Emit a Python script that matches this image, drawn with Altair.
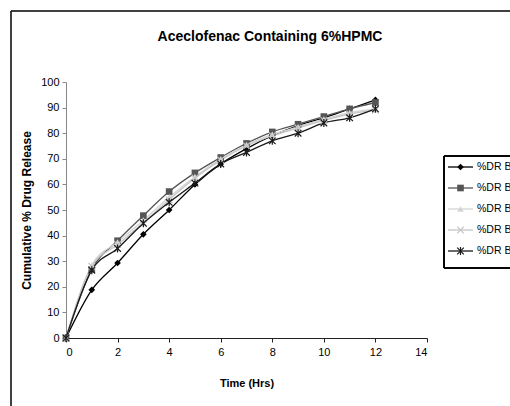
import altair as alt
import pandas as pd

hours = [0, 1, 2, 3, 4, 5, 6, 7, 8, 9, 10, 11, 12]
series_names = ["%DR B1", "%DR B2", "%DR B3", "%DR B4", "%DR B5"]
b1 = [0, 18.8, 29.3, 40.5, 50.0, 60.0, 68.0, 74.0, 79.0, 83.0, 86.0, 89.5, 93.0]
b2 = [0, 26.8, 38.0, 47.8, 57.2, 64.5, 70.5, 76.0, 80.5, 83.5, 86.5, 89.5, 92.0]
b3 = [0, 28.5, 37.5, 46.0, 55.0, 63.0, 70.0, 75.5, 79.5, 82.5, 85.5, 88.0, 89.5]
b4 = [0, 28.0, 36.5, 45.0, 54.0, 62.5, 69.5, 75.0, 79.0, 82.0, 85.0, 87.5, 89.0]
b5 = [0, 26.5, 35.0, 44.8, 53.0, 60.5, 68.0, 72.5, 77.0, 80.0, 84.0, 86.0, 89.5]
title_text = ["Aceclofenac Containing 6%HPMC"]

colors = ["#000000", "#555555", "#d4d4d4", "#c4c4c4", "#1a1a1a"]
x_path = "M-1,-1L1,1M1,-1L-1,1"
ast_path = "M-1,-1L1,1M1,-1L-1,1M0,-1.2L0,1.2"
shapes = ["diamond", "square", "triangle-up", x_path, ast_path]
filled_series = series_names[:3]
stroked_series = series_names[3:]

rows = []
for name, vals in zip(series_names, [b1, b2, b3, b4, b5]):
    for h, v in zip(hours, vals):
        rows.append({"hours": h, "value": v, "series": name})
df = pd.DataFrame(rows)
leg = pd.DataFrame({"series": series_names})
tdf = pd.DataFrame({"t": title_text})

FONT = "Liberation Sans, Arial, sans-serif"
W, H = 361, 256
MS = 44

color = alt.Color("series:N", scale=alt.Scale(domain=series_names, range=colors), legend=None)
shape = alt.Shape("series:N", scale=alt.Scale(domain=series_names, range=shapes), legend=None)

x = alt.X("hours:Q", scale=alt.Scale(domain=[0, 14], nice=False),
          axis=alt.Axis(values=list(range(0, 15, 2)), title="Time (Hrs)", grid=False,
                        domainColor="#222", tickColor="#222", tickSize=4,
                        labelFont=FONT, labelFontSize=11, labelColor="#000", labelPadding=4,
                        titleFont=FONT, titleFontSize=11, titleFontWeight="bold",
                        titleColor="#000", titlePadding=20))
y = alt.Y("value:Q", scale=alt.Scale(domain=[0, 100], nice=False),
          axis=alt.Axis(values=list(range(0, 101, 10)), title="Cumulative % Drug Release", grid=False,
                        domainColor="#888", tickColor="#888", tickSize=4,
                        labelFont=FONT, labelFontSize=11, labelColor="#000", labelPadding=3,
                        titleFont=FONT, titleFontSize=12, titleFontWeight="bold",
                        titleColor="#000", titlePadding=7))

base = alt.Chart(df)
lines = base.mark_line(interpolate="monotone", strokeWidth=1.3).encode(x=x, y=y, color=color, detail="series:N")
pts_f = base.transform_filter(alt.FieldOneOfPredicate(field="series", oneOf=filled_series)).mark_point(
    filled=True, size=MS, opacity=1).encode(x=x, y=y, color=color, shape=shape)
pts_s = base.transform_filter(alt.FieldOneOfPredicate(field="series", oneOf=stroked_series)).mark_point(
    filled=False, size=MS, strokeWidth=1.2, opacity=1).encode(x=x, y=y, color=color, shape=shape)
main = alt.layer(lines, pts_f, pts_s)

# hand-made legend (Excel style: line through marker, boxed)
ly = alt.Y("series:N", scale=alt.Scale(type="point", domain=series_names, range=[85, 169], padding=0), axis=None)
lbase = alt.Chart(leg)
lbox = lbase.mark_rect(filled=False, stroke="#000", strokeWidth=1).encode(
    x=alt.value(378), x2=alt.value(470), y=alt.value(74), y2=alt.value(186))
lrule = lbase.mark_rule(strokeWidth=1.3).encode(x=alt.value(382), x2=alt.value(407), y=ly, color=color)
lpf = lbase.transform_filter(alt.FieldOneOfPredicate(field="series", oneOf=filled_series)).mark_point(
    filled=True, size=MS, opacity=1).encode(x=alt.value(394.5), y=ly, color=color, shape=shape)
lps = lbase.transform_filter(alt.FieldOneOfPredicate(field="series", oneOf=stroked_series)).mark_point(
    filled=False, size=MS, strokeWidth=1.2, opacity=1).encode(x=alt.value(394.5), y=ly, color=color, shape=shape)
ltext = lbase.mark_text(align="left", baseline="middle", font=FONT, fontSize=10.5, color="#000").encode(
    x=alt.value(411), y=ly, text="series:N")
legend = alt.layer(lbox, lrule, lpf, lps, ltext)

# chart title as text
title = alt.Chart(tdf).mark_text(align="center", baseline="alphabetic", font=FONT, fontSize=14,
                                 fontWeight="bold", color="#000").encode(
    x=alt.value(204), y=alt.value(-41), text="t:N")

# outer chart-area frame
frame_top = alt.Chart(tdf).mark_rule(color="#000", strokeWidth=1.5).encode(
    x=alt.value(-55), x2=alt.value(450), y=alt.value(-71))
frame_left = alt.Chart(tdf).mark_rule(color="#000", strokeWidth=1.5).encode(
    x=alt.value(-55), y=alt.value(-71), y2=alt.value(330))

chart = alt.layer(main, legend, title, frame_top, frame_left).resolve_scale(y="independent").properties(
    width=W, height=H,
    background="#ffffff",
    autosize=alt.AutoSizeParams(type="none"),
    padding={"left": 66, "top": 82, "right": 83, "bottom": 68},
).configure(style={"cell": {"stroke": "transparent", "strokeWidth": 0}}).configure_view(
    stroke="transparent", strokeWidth=0)

chart.save("out.html", embed_options={"renderer": "svg", "actions": False})
